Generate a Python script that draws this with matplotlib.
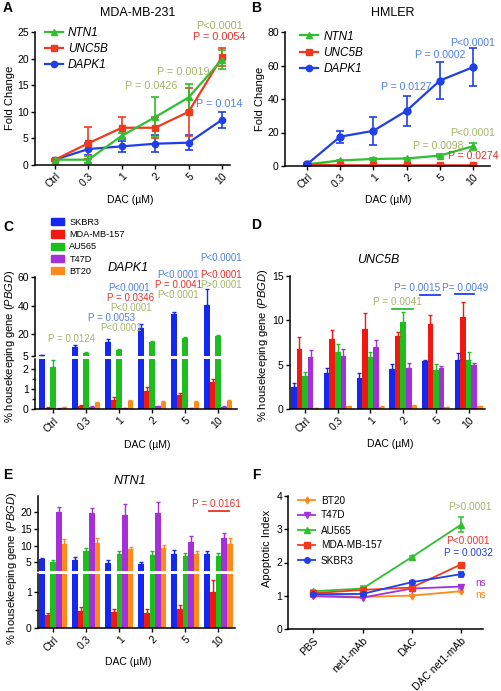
import matplotlib.pyplot as plt
import numpy as np
from matplotlib.lines import Line2D
from matplotlib.patches import Patch

plt.rcParams["font.family"] = ["Liberation Sans", "DejaVu Sans"]
plt.rcParams["mathtext.fontset"] = "custom"
plt.rcParams["mathtext.rm"] = "Liberation Sans"
plt.rcParams["mathtext.it"] = "Liberation Sans:italic"

W, H = 501, 691

# ---- data ----
doses = ["Ctrl", "0.3", "1", "2", "5", "10"]

# A: MDA-MB-231 fold change
a_ntn1 = [1, 1, 5.5, 9, 12.7, 19.8]
a_ntn1_err = [0.1, 0.7, 0.6, 3.8, 2.5, 1.8]
a_unc5b = [1, 4.1, 7, 7, 10, 20.3]
a_unc5b_err = [0.2, 3.0, 2.0, 2.0, 4.5, 1.7]
a_dapk1 = [1, 3, 3.5, 4, 4.2, 8.5]
a_dapk1_err = [0.2, 1.2, 1.0, 1.6, 1.4, 1.5]

# B: HMLER fold change
b_ntn1 = [1, 3.3, 4.2, 4.5, 6.2, 11.8]
b_ntn1_err = [0.2, 0.5, 0.5, 0.5, 0.8, 2.0]
b_unc5b = [1, 0.5, 0.4, 0.4, 0.4, 0.4]
b_unc5b_err = [0.1, 0.1, 0.1, 0.1, 0.1, 0.1]
b_dapk1 = [1, 17.5, 21, 33, 51, 59]
b_dapk1_err = [0.5, 3.5, 8.5, 9, 11, 11.5]

cell_lines = ["SKBR3", "MDA-MB-157", "AU565", "T47D", "BT20"]

# C: DAPK1 (% PBGD), rows follow cell_lines
c_vals = [
    [5.5, 11.3, 14.8, 24.6, 34.0, 40.5],
    [0.08, 0.18, 0.45, 0.88, 0.70, 1.32],
    [2.1, 7.0, 9.0, 14.5, 17.7, 18.8],
    [0.03, 0.12, 0.05, 0.15, 0.05, 0.12],
    [0.10, 0.30, 0.40, 0.35, 0.35, 0.40],
]
c_errs = [
    [0.3, 1.0, 1.9, 2.4, 1.5, 11.5],
    [0.02, 0.04, 0.15, 0.22, 0.08, 0.18],
    [0.35, 0.7, 0.5, 0.6, 0.5, 0.6],
    [0.01, 0.03, 0.02, 0.03, 0.02, 0.03],
    [0.02, 0.06, 0.05, 0.05, 0.04, 0.06],
]

# D: UNC5B (% PBGD)
d_vals = [
    [2.55, 4.1, 3.5, 4.55, 5.4, 5.5],
    [6.75, 7.9, 9.0, 8.25, 9.6, 10.4],
    [3.7, 6.45, 5.9, 9.8, 4.45, 5.5],
    [5.9, 6.0, 7.05, 4.7, 4.65, 5.0],
    [0.15, 0.35, 0.3, 0.4, 0.25, 0.35],
]
d_errs = [
    [0.4, 0.6, 0.55, 0.5, 0.2, 0.8],
    [1.35, 1.0, 1.8, 0.4, 1.0, 1.7],
    [0.5, 0.85, 0.5, 1.1, 0.7, 0.9],
    [0.8, 0.75, 0.8, 0.5, 0.25, 0.25],
    [0.02, 0.03, 0.03, 0.03, 0.02, 0.03],
]

# E: NTN1 (% PBGD)
e_vals = [
    [5.9, 5.7, 4.8, 4.5, 7.5, 7.5],
    [0.36, 0.47, 0.44, 0.43, 0.53, 1.0],
    [5.0, 8.5, 7.5, 7.3, 7.0, 6.9],
    [20.0, 19.7, 19.1, 19.7, 11.2, 12.4],
    [10.6, 10.8, 8.9, 9.4, 7.5, 10.6],
]
e_errs = [
    [0.3, 0.9, 0.8, 0.7, 1.2, 0.8],
    [0.05, 0.1, 0.1, 0.1, 0.1, 0.33],
    [0.6, 0.7, 0.8, 1.0, 0.8, 1.0],
    [1.7, 1.7, 3.4, 3.5, 1.7, 1.4],
    [1.4, 1.4, 0.8, 0.8, 1.0, 1.7],
]

# F: apoptotic index
treatments = ["PBS", "net1-mAb", "DAC", "DAC net1-mAb"]
f_bt20 = [1.02, 0.97, 1.01, 1.14]
f_t47d = [0.99, 0.95, 1.22, 1.28]
f_au565 = [1.14, 1.22, 2.16, 3.13]
f_mda157 = [1.08, 1.18, 1.25, 1.94]
f_skbr3 = [1.05, 1.06, 1.41, 1.65]
f_au565_err = [0.03, 0.08, 0.04, 0.22]
f_mda157_err = [0.02, 0.03, 0.03, 0.05]
f_skbr3_err = [0.02, 0.03, 0.05, 0.08]
f_small_err = [0.02, 0.02, 0.02, 0.03]

# ---- colours ----
line_green, line_red, line_blue = "#2fbf2f", "#f03a1e", "#1f3fe8"
bar_colors = ["#1428f0", "#f0190f", "#1ebe1e", "#a630d8", "#ff8a1a"]
p_green, p_red, p_blue = "#a3b56a", "#e8302c", "#4f7fe6"
orange, purple = bar_colors[4], bar_colors[3]


def frect(left, top, right, bottom):
    return [left / W, 1 - bottom / H, (right - left) / W, (bottom - top) / H]


def style(ax):
    for s in ["top", "right"]:
        ax.spines[s].set_visible(False)
    for s in ["left", "bottom"]:
        ax.spines[s].set_linewidth(1.1)
    ax.tick_params(direction="out", length=3, width=1, labelsize=7.5, pad=1.5)


def dose_ticks(ax, labels=doses):
    ax.set_xticks(np.arange(len(labels)))
    ax.set_xticklabels(labels, rotation=45, ha="right", rotation_mode="anchor")


def fig_text(x, y, s, **kw):
    fig.text(x / W, 1 - y / H, s, ha="center", va="center", **kw)


def handle(color, marker, ms=4.5, lw=1.6):
    return Line2D([], [], color=color, marker=marker, ms=ms, lw=lw)


def draw_bars(ax, vals, errs, width=0.17):
    x = np.arange(len(doses))
    for i, (v, e, col) in enumerate(zip(vals, errs, bar_colors)):
        pos = x + (i - 2) * width
        ax.bar(pos, v, width=width, color=col, linewidth=0)
        ax.errorbar(pos, v, yerr=[np.zeros(len(e)), e], fmt="none", ecolor=col,
                    elinewidth=1, capsize=1.6, capthick=1)


fig = plt.figure(figsize=(W / 100, H / 100), dpi=100)
x = np.arange(len(doses))

# ---- A ----
axA = fig.add_axes(frect(35, 32, 230, 165))
style(axA)
eb = dict(capsize=3, elinewidth=1.2, capthick=1.2, lw=1.6)
axA.errorbar(x, a_dapk1, yerr=a_dapk1_err, color=line_blue, marker="o", ms=4.5, **eb)
axA.errorbar(x, a_unc5b, yerr=a_unc5b_err, color=line_red, marker="s", ms=4.5, **eb)
axA.errorbar(x, a_ntn1, yerr=a_ntn1_err, color=line_green, marker="^", ms=4.5, **eb)
axA.set_xlim(-0.6, 5.24)
axA.set_ylim(0, 25)
axA.set_yticks([0, 5, 10, 15, 20, 25])
dose_ticks(axA)
gene_handles = [handle(line_green, "^"), handle(line_red, "s"), handle(line_blue, "o")]
axA.legend(gene_handles, ["NTN1", "UNC5B", "DAPK1"], loc="upper left",
           bbox_to_anchor=(45 / W, 1 - 27 / H),
           bbox_transform=fig.transFigure, frameon=False, borderpad=0, borderaxespad=0,
           handlelength=1.5, handletextpad=0.45, labelspacing=0.35,
           prop={"style": "italic", "size": 8.5})
for xi, yi, s, c in [(4.92, 26.1, "P<0.0001", p_green), (4.92, 24.1, "P = 0.0054", p_red),
                     (3.84, 17.4, "P = 0.0019", p_green), (2.87, 14.8, "P = 0.0426", p_green),
                     (4.92, 11.5, "P = 0.014", p_blue)]:
    axA.text(xi, yi, s, color=c, fontsize=7.8, ha="center", va="center", clip_on=False)

# ---- B ----
axB = fig.add_axes(frect(285, 32, 490, 166))
style(axB)
axB.errorbar(x, b_ntn1, yerr=b_ntn1_err, color=line_green, marker="^", ms=4.5, **eb)
axB.errorbar(x, b_unc5b, yerr=b_unc5b_err, color=line_red, marker="s", ms=4.5, **eb)
axB.errorbar(x, b_dapk1, yerr=b_dapk1_err, color=line_blue, marker="o", ms=5, **eb)
axB.set_xlim(-0.66, 5.51)
axB.set_ylim(0, 80)
axB.set_yticks([0, 20, 40, 60, 80])
dose_ticks(axB)
axB.legend(gene_handles, ["NTN1", "UNC5B", "DAPK1"], loc="upper left",
           bbox_to_anchor=(300 / W, 1 - 30.5 / H),
           bbox_transform=fig.transFigure, frameon=False, borderpad=0, borderaxespad=0,
           handlelength=1.5, handletextpad=0.5, labelspacing=0.35,
           prop={"style": "italic", "size": 8.5})
for xi, yi, s, c in [(4.99, 73.6, "P<0.0001", p_blue), (4.0, 66.1, "P = 0.0002", p_blue),
                     (3.0, 47.0, "P = 0.0127", p_blue), (5.0, 19.5, "P<0.0001", p_green),
                     (3.96, 12.1, "P = 0.0098", p_green), (5.02, 6.1, "P = 0.0274", p_red)]:
    axB.text(xi, yi, s, color=c, fontsize=7.6, ha="center", va="center", clip_on=False)

# ---- C (broken axis) ----
axC1 = fig.add_axes(frect(35, 277.3, 237, 355.7))
axC2 = fig.add_axes(frect(35, 358.5, 237, 409.3))
for ax in (axC1, axC2):
    style(ax)
    draw_bars(ax, c_vals, c_errs)
    ax.set_xlim(-0.55, 5.57)
axC1.set_ylim(5, 60)
axC1.set_yticks([5, 20, 40, 60])
axC1.spines["bottom"].set_visible(False)
axC1.tick_params(bottom=False, labelbottom=False)
axC2.set_ylim(0, 2.5)
axC2.set_yticks([0, 1, 2])
axC2.set_yticks([0.5, 1.5], minor=True)
axC2.tick_params(which="minor", length=2, width=1)
dose_ticks(axC2)
for xi, yi, s, c in [(0.56, 16.7, "P = 0.0124", p_green), (1.77, 31.7, "P = 0.0053", p_blue),
                     (2.07, 24.2, "P<0.0001", p_green), (2.3, 52.7, "P<0.0001", p_blue),
                     (2.35, 45.7, "P = 0.0346", p_red), (2.35, 38.7, "P<0.0001", p_green),
                     (3.79, 61.6, "P<0.0001", p_blue), (3.79, 54.6, "P = 0.0041", p_red),
                     (3.79, 47.6, "P<0.0001", p_green), (5.1, 73.4, "P<0.0001", p_blue),
                     (5.1, 61.8, "P<0.0001", p_red), (5.1, 54.8, "P>0.0001", p_green)]:
    axC1.text(xi, yi, s, color=c, fontsize=7, ha="center", va="center", clip_on=False)
fig.legend([Patch(color=c) for c in bar_colors], cell_lines, loc="upper left",
           bbox_to_anchor=(51 / W, 1 - 218 / H), frameon=False, borderpad=0,
           borderaxespad=0, handlelength=1.4, handleheight=0.85, handletextpad=0.6,
           labelspacing=0.35, fontsize=6.6)

# ---- D ----
axD = fig.add_axes(frect(290, 276, 485, 409.3))
style(axD)
draw_bars(axD, d_vals, d_errs)
axD.set_xlim(-0.46, 5.5)
axD.set_ylim(0, 15)
axD.set_yticks([0, 5, 10, 15])
dose_ticks(axD)
for (x0, x1, yl), (xt, yt, s), c in [((2.67, 3.29, 11.3), (2.82, 12.1, "P = 0.0041"), line_green),
                                      ((3.51, 4.12, 12.85), (3.43, 13.7, "P= 0.0015"), line_blue),
                                      ((4.57, 5.17, 12.95), (4.89, 13.7, "P= 0.0049"), line_blue)]:
    axD.plot([x0, x1], [yl, yl], color=c, lw=1.3, clip_on=False)
    axD.text(xt, yt, s, color=p_green if c == line_green else p_blue, fontsize=7.2,
             ha="center", va="center", clip_on=False)

# ---- E (broken axis) ----
axE1 = fig.add_axes(frect(38, 495.7, 235, 570.7))
axE2 = fig.add_axes(frect(38, 573.5, 235, 628.3))
for ax in (axE1, axE2):
    style(ax)
    draw_bars(ax, e_vals, e_errs)
    ax.set_xlim(-0.46, 5.5)
axE1.set_ylim(2.5, 25)
axE1.set_yticks([5, 10, 15, 20])
axE1.spines["bottom"].set_visible(False)
axE1.tick_params(bottom=False, labelbottom=False)
axE2.set_ylim(0, 1.5)
axE2.set_yticks([0, 1])
axE2.set_yticks([0.5], minor=True)
axE2.tick_params(which="minor", length=2, width=1)
dose_ticks(axE2)
axE1.plot([4.7, 5.33], [20.3, 20.3], color=p_red, lw=1.3)
axE1.text(4.95, 22.6, "P = 0.0161", color=p_red, fontsize=7.2, ha="center", va="center")

# ---- F ----
axF = fig.add_axes(frect(288.3, 495.7, 483, 629.3))
style(axF)
xf = np.arange(len(treatments))
ebf = dict(capsize=2.5, elinewidth=1.1, capthick=1.1, lw=1.3)
axF.errorbar(xf, f_bt20, yerr=f_small_err, color=orange, marker="d", ms=3.5, **ebf)
axF.errorbar(xf, f_t47d, yerr=f_small_err, color=purple, marker="v", ms=4, **ebf)
axF.errorbar(xf, f_au565, yerr=f_au565_err, color=line_green, marker="^", ms=4, **ebf)
axF.errorbar(xf, f_mda157, yerr=f_mda157_err, color=line_red, marker="s", ms=4, **ebf)
axF.errorbar(xf, f_skbr3, yerr=f_skbr3_err, color=line_blue, marker="o", ms=4, **ebf)
axF.set_xlim(-0.51, 3.45)
axF.set_ylim(0, 4)
axF.set_yticks([0, 1, 2, 3, 4])
dose_ticks(axF, treatments)
f_handles = [handle(orange, "d", 3.5, 1.3), handle(purple, "v", 4, 1.3),
             handle(line_green, "^", 4, 1.3), handle(line_red, "s", 4, 1.3),
             handle(line_blue, "o", 4, 1.3)]
axF.legend(f_handles, ["BT20", "T47D", "AU565", "MDA-MB-157", "SKBR3"], loc="upper left",
           bbox_to_anchor=(298 / W, 1 - 495.5 / H),
           bbox_transform=fig.transFigure, frameon=False, borderpad=0, borderaxespad=0,
           handlelength=1.7, handletextpad=0.6, labelspacing=0.5, fontsize=7.2)
for xi, yi, s, c in [(3.18, 3.67, "P>0.0001", p_green), (3.15, 2.63, "P<0.0001", p_red),
                     (3.15, 2.28, "P = 0.0032", line_blue), (3.41, 1.38, "ns", purple),
                     (3.41, 1.02, "ns", orange)]:
    axF.text(xi, yi, s, color=c, fontsize=7.2, ha="center", va="center", clip_on=False)

# ---- labels, titles, panel letters ----
ylab = "% housekeeping gene ($\\it{PBGD}$)"
fig_text(10, 98, "Fold Change", rotation=90, fontsize=8)
fig_text(260, 99, "Fold Change", rotation=90, fontsize=8)
fig_text(10.5, 346.7, ylab, rotation=90, fontsize=8)
fig_text(263, 345, ylab, rotation=90, fontsize=8)
fig_text(12, 568, ylab, rotation=90, fontsize=8)
fig_text(266.7, 548, "Apoptotic Index", rotation=90, fontsize=8)
for xc, yc in [(130, 200), (388, 200), (147, 445), (390, 444), (128, 662)]:
    fig_text(xc, yc, "DAC (\u00b5M)", fontsize=7.5)
fig_text(138, 13, "MDA-MB-231", fontsize=9)
fig_text(393, 13, "HMLER", fontsize=9)
fig_text(128, 268, "DAPK1", fontsize=9, style="italic")
fig_text(378, 260, "UNC5B", fontsize=9, style="italic")
fig_text(130, 481, "NTN1", fontsize=9, style="italic")
for letter, xc, yc in [("A", 8, 8), ("B", 256, 8), ("C", 8, 227), ("D", 256, 225),
                       ("E", 8, 475), ("F", 256, 475)]:
    fig_text(xc, yc, letter, fontsize=10, fontweight="bold")

fig.savefig("out.png", dpi=100)
